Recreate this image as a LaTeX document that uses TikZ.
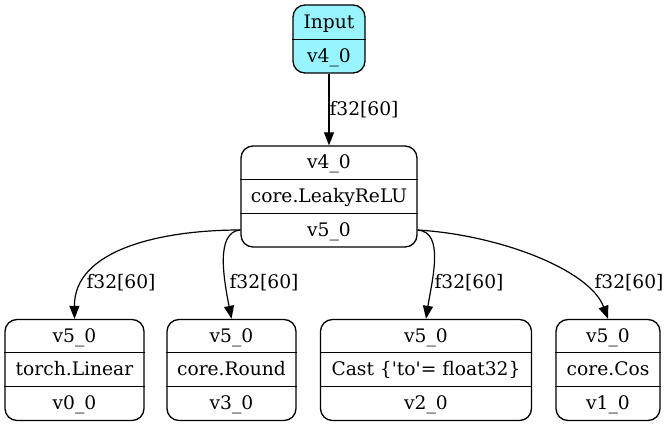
\documentclass[tikz,border=0pt]{standalone}
\usepackage{fontspec}
\newfontfamily\dvserif{DejaVu Serif}
\usetikzlibrary{arrows.meta}
\newdimen\pxu
\pxu=0.75pt
\begin{document}
\begin{tikzpicture}[x=0.75pt,y=-0.75pt,
  every node/.style={font=\dvserif\fontsize{14}{16}\selectfont, inner sep=0pt},
  txt/.style={anchor=base},
  rec/.style={draw, line width=1pt, rounded corners=12\pxu, minimum height=101\pxu},
  sep/.style={line width=1pt},
  flow/.style={line width=0.9pt, -{Triangle[length=9.75pt,width=7.5pt]}},
  lbl/.style={anchor=base}]
\useasboundingbox (0,0) rectangle (669,427);

% input record
\node[rec, fill={rgb,255:red,152;green,245;blue,255}, minimum width=72\pxu, minimum height=68\pxu] (in) at (329,39) {};
\draw[sep] (in.west |- 0,39.5) -- (in.east |- 0,39.5);
\node[txt] (inA) at (329,28.5) {Input};
\node[txt] (inB) at (329,62.5) {v4\_0};

% LeakyReLU record
\node[rec, minimum width=176\pxu] (mid) at (329,196.5) {};
\draw[sep] (mid.west |- 0,179.5) -- (mid.east |- 0,179.5);
\draw[sep] (mid.west |- 0,213.5) -- (mid.east |- 0,213.5);
\node[txt] (midA) at (329,169) {v4\_0};
\node[txt] (midB) at (329,202.5) {core.LeakyReLU};
\node[txt] (midC) at (329,236.5) {v5\_0};
\coordinate (portL) at (mid.west |- 0,230);
\coordinate (portR) at (mid.east |- 0,230);

% consumer records
\node[rec, minimum width=139\pxu] (lin) at (74.5,370) {};
\node[rec, minimum width=129\pxu] (rnd) at (231.5,370) {};
\node[rec, minimum width=211\pxu] (cst) at (426,370) {};
\node[rec, minimum width=104\pxu] (cos) at (608,370) {};
\foreach \n in {lin,rnd,cst,cos}{
  \draw[sep] (\n.west |- 0,352.5) -- (\n.east |- 0,352.5);
  \draw[sep] (\n.west |- 0,386.5) -- (\n.east |- 0,386.5);
}
\node[txt] (linA) at (74.5,342.5) {v5\_0};
\node[txt] (linB) at (74.5,376) {torch.Linear};
\node[txt] (linC) at (74.5,409.5) {v0\_0};
\node[txt] (rndA) at (231.5,342.5) {v5\_0};
\node[txt] (rndB) at (231.5,376) {core.Round};
\node[txt] (rndC) at (231.5,409.5) {v3\_0};
\node[txt] (cstA) at (426,342.5) {v5\_0};
\node[txt] (cstB) at (426,376) {Cast \{'to'= float32\}};
\node[txt] (cstC) at (426,409.5) {v2\_0};
\node[txt] (cosA) at (608,342.5) {v5\_0};
\node[txt] (cosB) at (608,376) {core.Cos};
\node[txt] (cosC) at (608,409.5) {v1\_0};

% tensor flow edges
\draw[flow] (in) -- (mid);
\node[lbl] (e0) at (364,116) {f32[60]};

\draw[flow] (portL) .. controls (160,230) and (74,250) .. (lin.north);
\node[lbl] (e1) at (121,289) {f32[60]};

\draw[flow] (portL) .. controls (215,232) and (224,280) .. (rnd.north);
\node[lbl] (e2) at (264,289) {f32[60]};

\draw[flow] (portR) .. controls (445,232) and (432,280) .. (cst.north);
\node[lbl] (e3) at (469,289) {f32[60]};

\draw[flow] (portR) .. controls (500,235) and (590,270) .. (cos.north);
\node[lbl] (e4) at (629,289) {f32[60]};
\end{tikzpicture}
\end{document}
